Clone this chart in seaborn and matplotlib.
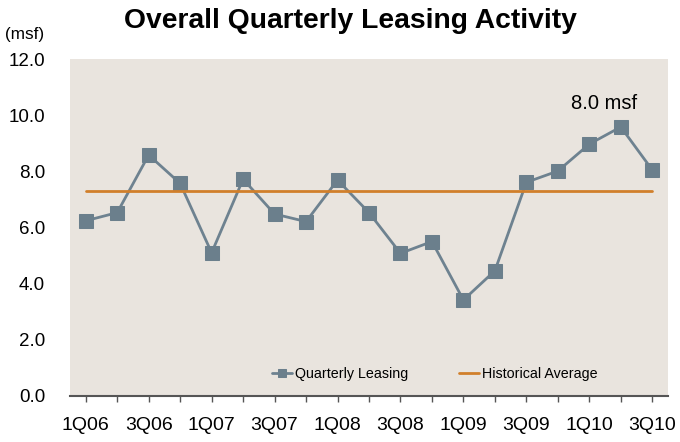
import pandas as pd
import matplotlib.pyplot as plt
import seaborn as sns

# data
quarters = ["1Q06", "2Q06", "3Q06", "4Q06", "1Q07", "2Q07", "3Q07", "4Q07",
            "1Q08", "2Q08", "3Q08", "4Q08", "1Q09", "2Q09", "3Q09", "4Q09",
            "1Q10", "2Q10", "3Q10"]
leasing = [6.24, 6.53, 8.58, 7.57, 5.10, 7.72, 6.48, 6.21,
           7.69, 6.53, 5.08, 5.50, 3.42, 4.46, 7.61, 8.01,
           8.97, 9.58, 8.05]
hist_avg = 7.3

df = pd.DataFrame({"pos": range(len(quarters)), "quarter": quarters, "leasing": leasing})

sns.set_style("white")
plt.rcParams["font.family"] = ["Liberation Sans", "DejaVu Sans"]
plt.rcParams["text.color"] = "black"
plt.rcParams["xtick.color"] = "black"
plt.rcParams["ytick.color"] = "black"

fig = plt.figure(figsize=(6.8, 4.42), dpi=100)
ax = fig.add_axes([70 / 680, 1 - 396 / 442, 598 / 680, 337 / 442])
ax.set_facecolor("#E9E4DE")

sns.lineplot(data=df, x="pos", y="leasing", ax=ax, color="#6E8290", linewidth=2,
             marker="s", markersize=9.5, markerfacecolor="#6B7F8C",
             markeredgecolor="#6B7F8C", label="Quarterly Leasing")
ax.plot([0, len(quarters) - 1], [hist_avg, hist_avg], color="#D17F2B",
        linewidth=2, label="Historical Average")

ax.set_xlim(-0.5, len(quarters) - 0.5)
ax.set_ylim(0, 12)
ax.set_yticks([0, 2, 4, 6, 8, 10, 12])
ax.set_yticklabels([f"{v:.1f}" for v in [0, 2, 4, 6, 8, 10, 12]], fontsize=13.5)
ax.set_xticks(range(len(quarters)))
ax.set_xticklabels([q if i % 2 == 0 else "" for i, q in enumerate(quarters)], fontsize=14)
ax.tick_params(axis="x", length=4, width=1, color="#555555", pad=11, direction="out", bottom=True)
ax.tick_params(axis="y", length=0, pad=18)
ax.set_xlabel("")
ax.set_ylabel("")

for s in ["top", "right", "left"]:
    ax.spines[s].set_visible(False)
ax.spines["bottom"].set_color("#555555")
ax.spines["bottom"].set_linewidth(1.5)

ax.text(16.46, 10.43, "8.0 msf", fontsize=14.5, ha="center", va="center")

leg = ax.legend(loc="lower center", bbox_to_anchor=(0.61, 0.005), ncol=2, frameon=False,
                fontsize=10.3, handlelength=1.4, handletextpad=0.2, columnspacing=3.6,
                markerscale=0.65)

fig.text(350 / 680, 0.953, "Overall Quarterly Leasing Activity", ha="center", va="center",
         fontsize=20.3, fontweight="bold")
fig.text(25 / 680, 1 - 35 / 442, "(msf)", ha="center", va="center", fontsize=12.3)

plt.savefig("out.png", dpi=100)
